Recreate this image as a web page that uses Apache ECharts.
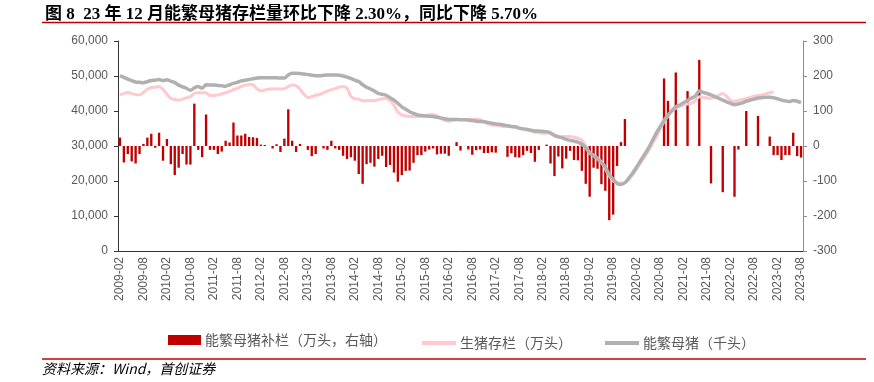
<!DOCTYPE html>
<html>
<head>
<meta charset="utf-8">
<title>能繁母猪存栏</title>
<script src="https://cdn.jsdelivr.net/npm/echarts@6/dist/echarts.min.js"></script>
<style>
    html, body {margin: 0; padding: 0; background: #fff;}
    #main {width: 874px; height: 382px;}
</style>
</head>
<body>
<div id="main"></div>
<script>
'use strict';

// 月份：2009-02 ~ 2023-08
var months = [];
(function () {
    var y = 2009, m = 2;
    while (y < 2023 || (y === 2023 && m <= 8)) {
        months.push(y + "-" + (m < 10 ? "0" + m : m));
        m++;
        if (m > 12) { m = 1; y++; }
    }
})();

// 能繁母猪补栏（万头，右轴）
var sowAdd = [
    24, -47, -23, -44, -50, -23, 6, 24, 35, -5, 38, -42,
    20, -52, -83, -62, -23, -53, -53, 121, -11, -32, 90, -11,
    -11, -23, -16, 15, 10, 67, 30, 30, 35, 26, 25, 23,
    4, 3, 0, -7, 5, -17, 21, 105, 15, -17, 6, 0,
    -11, -29, -23, 0, -7, -11, 15, -7, -11, -28, -37, -32,
    -42, -80, -108, -52, -48, -59, -37, -28, -60, -54, -76, -102,
    -83, -71, -70, -48, -26, -26, -16, -10, -7, -24, -22, -22,
    -28, 0, 11, -13, 0, -10, -25, -12, -10, -20, -20, -18,
    -19, 0, 0, -31, -21, -32, -33, -26, -14, -20, -45, -11,
    0, 4, -50, -86, -30, -64, -36, -14, -40, -41, -71, -108,
    -145, -62, -65, -109, -128, -212, -196, -57, 11, 77, 0, 0,
    0, 0, 0, 0, 0, 0, 0, 193, 129, 0, 210, 0,
    0, 157, 0, 0, 246, 0, 0, -107, 0, 0, -132, 0,
    0, -145, -10, 0, 100, 0, 0, 86, 0, 0, 27, -26,
    -26, -40, -26, -26, 38, -29, -33
];

// 生猪存栏（万头）
var hogStock = [
    44600, 45000, 45300, 45000, 44700, 44600, 45300, 46200, 46700, 46800, 47000, 46200,
    44800, 43600, 43300, 43100, 43400, 43800, 44100, 45000, 45200, 45200, 45200, 44400,
    44400, 44600, 44900, 45200, 45600, 46100, 46500, 47000, 47400, 47600, 47500, 46300,
    45700, 46000, 46300, 46300, 46300, 46300, 46400, 47000, 47400, 47200, 46200, 44800,
    43800, 44100, 44500, 44700, 45200, 45700, 46100, 46400, 46800, 47000, 46500, 44200,
    43500, 43400, 42900, 42900, 43000, 43000, 43200, 43500, 43600, 43000, 41600, 39700,
    38900, 38600, 38400, 38400, 38400, 38400, 38600, 38900, 38900, 38600, 37900, 37300,
    37000, 37400, 37600, 37600, 37600, 37600, 37600, 37700, 37500, 37000, 36300, 36000,
    35900, 35800, 35600, 35600, 35500, 35300, 35100, 35000, 34700, 34300, 33900, 33800,
    33600, 33700, 33800, 33200, 32800, 32700, 32700, 32700, 32500, 32200, 31700, 30000,
    28000, 27400, 26500, 25500, 23500, 21500, 20000, 19500, 19400, 19500, 20400, 21800,
    23400, 25100, 26800, 28600, 30600, 32500, 34800, 37000, 38500, 40000, 40800, 41300,
    41800, 42000, 42200, 43000, 44100, 43900, 43700, 43600, 44000, 44500, 45000, 44200,
    43000, 42700, 43000, 43300, 43600, 43900, 44200, 44400, 44600, 44900, 45200, 45400
];

// 能繁母猪（千头）
var sowStock = [
    50100, 49600, 49100, 48700, 48300, 48200, 48100, 48400, 48700, 48800, 49000, 48700,
    48900, 48500, 48100, 47400, 46900, 46500, 45900, 46600, 47000, 46500, 47500, 47400,
    47400, 47300, 47200, 47100, 47500, 47900, 48200, 48600, 48800, 49000, 49200, 49400,
    49500, 49500, 49500, 49500, 49500, 49400, 49400, 50300, 50800, 50800, 50700, 50600,
    50400, 50200, 50100, 50100, 50200, 50300, 50300, 50300, 50200, 50000, 49700, 49300,
    48800, 48400, 47500, 46800, 46300, 45700, 45000, 44800, 44500, 43800, 43100, 42200,
    41200, 40500, 39800, 39300, 38900, 38700, 38600, 38500, 38400, 38200, 38000, 37800,
    37600, 37600, 37600, 37500, 37500, 37400, 37300, 37100, 37000, 36900, 36700, 36500,
    36300, 36200, 36000, 35800, 35600, 35500, 35100, 34900, 34700, 34500, 34300, 34300,
    34200, 34100, 33700, 33000, 32600, 32300, 31900, 31600, 31400, 31100, 30500, 29500,
    28000, 27200, 26300, 25200, 24000, 21800, 20500, 19300, 19000, 19500, 20800, 22300,
    24000, 25800, 27500, 29300, 31500, 33600, 35500, 37300, 38800, 40100, 41200, 41700,
    42400, 43000, 43700, 44300, 45700, 45300, 45000, 44600, 44100, 43600, 43100, 42600,
    42200, 41800, 42000, 42300, 42800, 43100, 43400, 43700, 43800, 43900, 43900, 43800,
    43500, 43100, 42900, 42700, 43000, 42800, 42400
];

var seriesNames = ["能繁母猪补栏（万头，右轴）", "生猪存栏（万头）", "能繁母猪（千头）"];
var titleText = "图 8  23 年 12 月能繁母猪存栏量环比下降 2.30%，同比下降 5.70%";
var sourceText = "资料来源：Wind，首创证券";

var labelColor = "#595959";
var cjk = "'Noto Sans CJK SC', sans-serif";

// 每个图例单独放，位置对齐原图
function legendAt(name, left, w, h) {
    return {
        data: [{name: name, icon: "rect"}],
        left: left,
        top: 333 - h / 2,
        itemWidth: w,
        itemHeight: h,
        textStyle: {color: labelColor, fontSize: 14, fontFamily: cjk, padding: [0, 0, 0, -1]}
    };
}

var chart = echarts.init(document.getElementById("main"), null, {renderer: "canvas"});

chart.setOption({
    animation: false,
    backgroundColor: "#fff",
    title: {
        text: titleText,
        left: 40,
        top: 1,
        textStyle: {
            fontSize: 17,
            fontWeight: "bold",
            color: "#000",
            fontFamily: "'Liberation Serif', 'Noto Sans CJK SC', serif"
        }
    },
    graphic: [
        {type: "line", shape: {x1: 42, y1: 22.5, x2: 866, y2: 22.5}, style: {stroke: "#C00000", lineWidth: 1.5}},
        {type: "line", shape: {x1: 42, y1: 359, x2: 866, y2: 359}, style: {stroke: "#C00000", lineWidth: 1.5}},
        {
            type: "text", left: 42, top: 362,
            style: {text: sourceText, fill: "#000", font: "italic 14px 'Noto Sans CJK SC', sans-serif"}
        }
    ],
    legend: [
        legendAt(seriesNames[0], 163, 33, 10),
        legendAt(seriesNames[1], 417, 34, 4),
        legendAt(seriesNames[2], 600, 34, 4)
    ],
    grid: {left: 118, right: 71, top: 41, bottom: 131},
    xAxis: {
        type: "category",
        data: months,
        boundaryGap: true,
        axisLine: {lineStyle: {color: "#333", width: 1}},
        axisTick: {interval: 5, length: 4, lineStyle: {color: "#333"}},
        axisLabel: {
            interval: 5,
            rotate: 90,
            margin: 6,
            color: labelColor,
            fontSize: 12,
            fontFamily: "'Liberation Sans', sans-serif"
        }
    },
    yAxis: [
        {
            type: "value",
            position: "left",
            min: 0,
            max: 60000,
            interval: 10000,
            axisLine: {show: true, lineStyle: {color: "#333"}},
            axisTick: {show: true, length: 4, lineStyle: {color: "#333"}},
            splitLine: {show: false},
            axisLabel: {
                color: labelColor,
                fontSize: 12,
                margin: 10,
                fontFamily: "'Liberation Sans', sans-serif",
                formatter: function (v) { return v.toLocaleString("en-US"); }
            }
        },
        {
            type: "value",
            position: "right",
            min: -300,
            max: 300,
            interval: 100,
            axisLine: {show: true, lineStyle: {color: "#8c8c8c"}},
            axisTick: {show: true, length: 4, lineStyle: {color: "#8c8c8c"}},
            splitLine: {show: false},
            axisLabel: {
                color: labelColor,
                fontSize: 12,
                margin: 10,
                fontFamily: "'Liberation Sans', sans-serif"
            }
        }
    ],
    series: [
        {
            name: seriesNames[0],
            type: "bar",
            yAxisIndex: 1,
            data: sowAdd,
            barWidth: "60%",
            itemStyle: {color: "#C00000"}
        },
        {
            name: seriesNames[1],
            type: "line",
            yAxisIndex: 0,
            data: hogStock,
            symbol: "none",
            smooth: 0.3,
            lineStyle: {color: "#FFC9CF", width: 3},
            itemStyle: {color: "#FFC9CF"}
        },
        {
            name: seriesNames[2],
            type: "line",
            yAxisIndex: 0,
            data: sowStock,
            symbol: "none",
            smooth: 0.3,
            lineStyle: {color: "#B0B0B0", width: 3.5},
            itemStyle: {color: "#B0B0B0"}
        }
    ]
});
</script>
</body>
</html>
